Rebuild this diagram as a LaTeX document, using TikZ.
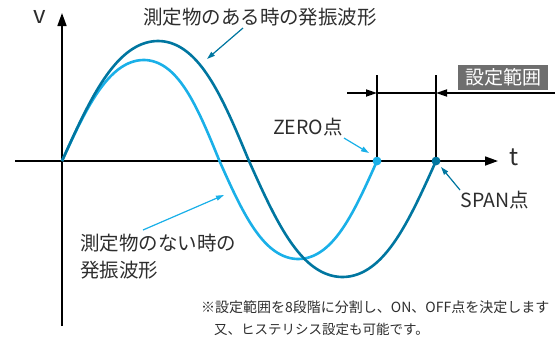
\documentclass[tikz,border=0pt]{standalone}
\usepackage{fontspec}
\setmainfont{Noto Sans CJK JP}
\usepackage{tikz}
\usetikzlibrary{arrows.meta,positioning}
\definecolor{wvdark}{RGB}{0,118,160}
\definecolor{wvlight}{RGB}{26,176,232}
\definecolor{wvgray}{RGB}{110,110,110}
\definecolor{wvtext}{RGB}{45,45,45}
\tikzset{
  wvlabel/.style={inner sep=0pt, text=wvtext, font=\fontsize{19.5}{27}\selectfont},
  wvnote/.style={inner sep=0pt, anchor=west, text=wvtext},
  wvaxis/.style={-{Triangle[length=13pt,width=9pt]}, line width=1.7pt, draw=black},
  wvdim/.style={-{Triangle[length=11pt,width=7pt]}, line width=1.7pt, draw=black},
  wvcurve/.style={line width=2.6pt},
  wvpointer/.style={-{Triangle[length=8pt,width=5pt]}, line width=1.2pt},
  wvdot/.style={circle, inner sep=0pt, minimum size=8.5pt}
}

\begin{document}
\begin{tikzpicture}[x=1pt,y=-1pt]
  \useasboundingbox (0,0) rectangle (555,338);
  % axes
  \coordinate (xS) at (15,161);
  \coordinate (xE) at (498,161);
  \coordinate (yS) at (62,326);
  \coordinate (yE) at (62,13);
  \draw[wvaxis] (xS) -- (xE);
  \draw[wvaxis] (yS) -- (yE);
  \node[wvlabel, font=\fontsize{24}{24}\selectfont] (lV) at (40,17) {v};
  \node[wvlabel, font=\fontsize{24}{24}\selectfont] (lT) at (514,157) {t};
  % waves (slightly flattened sine)
  \draw[wvcurve, draw=wvlight] plot[domain=0:360, samples=150]
    ({62 + 0.875*\x + 3*max(sin(\x),0)},
     {161 - ((\x<180)?101:98)*(sin(\x) + 0.035*sin(3*\x))/0.965});
  \draw[wvcurve, draw=wvdark] plot[domain=0:360, samples=150]
    ({62 + 1.03889*\x + 2.5*max(sin(\x),0)},
     {161 - ((\x<180)?120:116)*(sin(\x) + 0.035*sin(3*\x))/0.965});
  % setting range
  \node[wvdot, fill=wvlight] (zP) at (377,161) {};
  \node[wvdot, fill=wvdark] (sP) at (436,161) {};
  \coordinate (zTop) at (377,75);
  \coordinate (sTop) at (436,75);
  \coordinate (zDim) at (377,93);
  \coordinate (sDim) at (436,93);
  \coordinate (dimL) at (347,93);
  \coordinate (dimR) at (556,93);
  \draw[line width=1.7pt] (zTop) -- (zP.center);
  \draw[line width=1.7pt] (sTop) -- (sP.center);
  \node[wvdot, fill=wvlight] at (zP) {};
  \node[wvdot, fill=wvdark] at (sP) {};
  \draw[line width=1.7pt] (zDim) -- (sDim);
  \draw[wvdim] (dimL) -- (zDim);
  \draw[wvdim] (dimR) -- (sDim);
  \node[fill=wvgray, text=white, inner sep=0pt, minimum width=90pt, minimum height=25pt,
    font=\fontsize{19}{19}\selectfont] (range) at (503,77.5) {設定範囲};
  % labels
  \node[wvlabel] (withObj) at (260,17) {測定物のある時の発振波形};
  \node[wvlabel, align=left, anchor=west] (noObj) at (80,256.5) {測定物のない時の\\発振波形};
  \node[wvlabel] (zero) at (308,127) {ZERO点};
  \node[wvlabel] (span) at (495,200) {SPAN点};
  \coordinate (withObjA) at (243,28);
  \coordinate (withObjB) at (207,59);
  \coordinate (noObjA) at (143,230);
  \coordinate (noObjB) at (224,195);
  \coordinate (zeroA) at (344,138);
  \coordinate (spanA) at (460,190);
  \draw[wvpointer, draw=wvdark, fill=wvdark] (withObjA) -- (withObjB);
  \draw[wvpointer, draw=wvlight, fill=wvlight] (noObjA) -- (noObjB);
  \draw[wvpointer, draw=wvlight, fill=wvlight] (zeroA) -- (369,153);
  \draw[wvpointer, draw=wvdark, fill=wvdark] (spanA) -- (441,167);
  % note
  \node[wvnote, font=\fontsize{14}{14}\selectfont] (note1) at (201,307) {※設定範囲を8段階に分割し、ON、OFF点を決定します};
  \node[wvnote, font=\fontsize{13.5}{13.5}\selectfont] (note2) at (214,329) {又、ヒステリシス設定も可能です。};
\end{tikzpicture}
\end{document}
